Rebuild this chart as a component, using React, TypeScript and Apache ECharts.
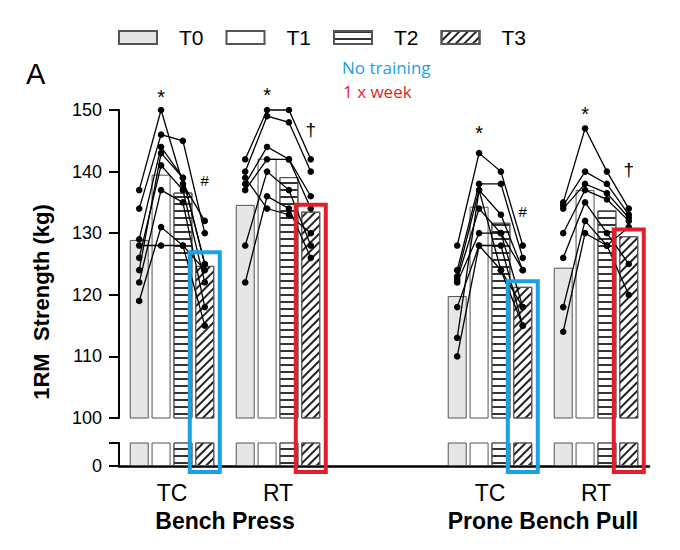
import { useEffect, useRef } from 'react';
import * as echarts from 'echarts';

const categories = ['TC', 'RT', '', 'TC', 'RT'];
const timepoints = ['T0', 'T1', 'T2', 'T3'];
const exercises = ['Bench Press', 'Prone Bench Pull'];

// group means (kg); the middle category is only a spacer
const meanT0 = [128.9, 134.6, '-', 119.8, 124.4];
const meanT1 = [139.5, 142.1, '-', 134.3, 137.0];
const meanT2 = [136.6, 139.1, '-', 131.7, 133.7];
const meanT3 = [124.7, 133.5, '-', 121.3, 129.5];

// individual subjects, values at T0, T1, T2, T3
const tcBench = [
  [137, 150, 138, 132],
  [134, 146, 145, 130],
  [129, 144, 139, 125],
  [126, 141, 137, 122],
  [122, 137, 135, 118],
  [119, 131, 128, 115],
  [128, 128, 128, 124],
  [124, 143, 139, 125],
];
const rtBench = [
  [142, 150, 150, 142],
  [140, 149, 148, 140],
  [138, 144, 142, 136],
  [137, 142, 142, 134],
  [128, 140, 137, 128],
  [122, 136, 134, 126],
  [139, 134, 133, 130],
];
const tcPull = [
  [128, 143, 140, 128],
  [124, 138, 138, 126],
  [123, 137, 133, 124],
  [122.5, 134, 130, 118],
  [122, 130, 130, 124],
  [118, 128, 128, 115],
  [113, 137, 124, 118],
  [110, 128, 124, 115],
];
const rtPull = [
  [135, 147, 140, 134],
  [134.5, 140, 138, 133],
  [134, 138, 136.5, 132.5],
  [130, 137, 135.5, 132],
  [126, 135, 130, 125],
  [118, 132, 128, 120],
  [114, 130, 128, 131],
];

// significance marks: category, timepoint, height (kg), symbol
const markCats = [0, 1, 3, 4, 0, 3, 1, 4];
const markTimes = [1, 1, 1, 1, 3, 3, 3, 3];
const markValues = [152.1, 152.4, 146.2, 149.4, 138.5, 133.5, 146.8, 140.3];
const markTexts = ['*', '*', '*', '*', '#', '#', '†', '†'];

// highlighted T3 bars
const boxCats = [0, 1, 3, 4];
const boxTops = [126.9, 134.6, 122.2, 130.6];
const boxColors = ['#1ba1e2', '#e11f2b', '#1ba1e2', '#e11f2b'];

const FONT = '"Liberation Sans", Arial, sans-serif';
const BAR_WIDTH = 19;
const BAR_GAP = 0.15;
const barOffset = (j: number) => (j - 1.5) * BAR_WIDTH * (1 + BAR_GAP);

const hLines = {
  symbol: 'rect',
  symbolSize: 1,
  color: '#333',
  dashArrayX: [1, 0],
  dashArrayY: [1.3, 4.7],
  rotation: 0,
};
const hatch = {
  symbol: 'rect',
  symbolSize: 1,
  color: '#222',
  dashArrayX: [1, 0],
  dashArrayY: [1.3, 3.4],
  rotation: -Math.PI / 4,
};

const barStyles: any[] = [
  { color: '#e6e6e6' },
  { color: '#ffffff' },
  { color: '#ffffff', decal: hLines },
  { color: '#ffffff', decal: hatch },
];
const means = [meanT0, meanT1, meanT2, meanT3];

export default function App() {
  const chartRef = useRef<HTMLDivElement>(null);

  useEffect(() => {
    document.body.style.margin = '0';
    if (!chartRef.current) return;
    const chart = echarts.init(chartRef.current, null, { renderer: 'svg' });

    const subjectRows: number[][] = [];
    [tcBench, rtBench, null, tcPull, rtPull].forEach((subs, cat) => {
      if (subs) subs.forEach((s) => subjectRows.push([cat, ...s]));
    });

    const barSeries: any[] = [];
    [0, 1].forEach((g) => {
      timepoints.forEach((t, j) => {
        barSeries.push({
          type: 'bar',
          name: t,
          xAxisIndex: g,
          yAxisIndex: g,
          data: means[j],
          barWidth: BAR_WIDTH,
          barGap: BAR_GAP * 100 + '%',
          clip: true,
          silent: true,
          itemStyle: { ...barStyles[j], borderColor: '#555', borderWidth: 1 },
        });
      });
    });

    const option = {
      animation: false,
      textStyle: { fontFamily: FONT },
      legend: {
        data: timepoints,
        left: 113,
        top: 22,
        icon: 'rect',
        itemWidth: 38,
        itemHeight: 13,
        itemGap: 22,
        selectedMode: false,
        textStyle: { fontSize: 21, color: '#000', fontFamily: FONT, padding: [0, 0, 0, 17] },
      },
      grid: [
        { left: 119, top: 110, width: 530, height: 308 },
        { left: 119, top: 443, width: 530, height: 23 },
      ],
      xAxis: [
        { gridIndex: 0, type: 'category', data: categories, show: false },
        {
          gridIndex: 1,
          type: 'category',
          data: categories,
          axisLine: { lineStyle: { color: '#000', width: 2.5 } },
          axisTick: { show: false },
          axisLabel: { fontSize: 23, color: '#000', margin: 15, fontFamily: FONT },
        },
      ],
      yAxis: [
        {
          gridIndex: 0,
          type: 'value',
          min: 100,
          max: 150,
          interval: 10,
          axisLine: { show: true, lineStyle: { color: '#000', width: 2 } },
          axisTick: { show: true, length: 10, lineStyle: { color: '#000', width: 2 } },
          axisLabel: { fontSize: 18, color: '#000', margin: 17, fontFamily: FONT },
          splitLine: { show: false },
        },
        {
          gridIndex: 1,
          type: 'value',
          min: 0,
          max: 10,
          interval: 10,
          axisLine: { show: true, lineStyle: { color: '#000', width: 2 } },
          axisTick: { show: true, length: 10, lineStyle: { color: '#000', width: 2 } },
          axisLabel: {
            fontSize: 18,
            color: '#000',
            margin: 17,
            fontFamily: FONT,
            formatter: (v: number) => (v === 0 ? '0' : ''),
          },
          splitLine: { show: false },
        },
      ],
      graphic: [
        {
          type: 'text',
          x: 26,
          y: 74,
          style: { text: 'A', font: `29px ${FONT}`, fill: '#000', textVerticalAlign: 'middle' },
        },
        {
          type: 'text',
          x: 342,
          y: 67,
          style: { text: 'No training', font: '17px "Open Sans", sans-serif', fill: '#1ba1e2', textVerticalAlign: 'middle' },
        },
        {
          type: 'text',
          x: 343,
          y: 91,
          style: { text: '1 x week', font: '17px "Open Sans", sans-serif', fill: '#e11f2b', textVerticalAlign: 'middle' },
        },
        {
          type: 'text',
          x: 41,
          y: 302,
          rotation: Math.PI / 2,
          style: {
            text: '1RM  Strength (kg)',
            font: `bold 22px ${FONT}`,
            fill: '#000',
            textAlign: 'center',
            textVerticalAlign: 'middle',
          },
        },
        {
          type: 'text',
          x: 225,
          y: 521,
          style: { text: exercises[0], font: `bold 23px ${FONT}`, fill: '#000', textAlign: 'center', textVerticalAlign: 'middle' },
        },
        {
          type: 'text',
          x: 543,
          y: 521,
          style: { text: exercises[1], font: `bold 23px ${FONT}`, fill: '#000', textAlign: 'center', textVerticalAlign: 'middle' },
        },
      ],
      series: [
        ...barSeries,
        {
          type: 'custom',
          xAxisIndex: 0,
          yAxisIndex: 0,
          z: 5,
          silent: true,
          encode: { x: 0, y: [1, 2, 3, 4] },
          data: subjectRows,
          renderItem: (params: any, api: any) => {
            const cat = api.value(0);
            const pts = [0, 1, 2, 3].map((j) => {
              const p = api.coord([cat, api.value(j + 1)]);
              return [p[0] + barOffset(j), p[1]];
            });
            return {
              type: 'group',
              children: [
                { type: 'polyline', shape: { points: pts }, style: { stroke: '#000', lineWidth: 1.3, fill: 'none' } },
                ...pts.map((p) => ({ type: 'circle', shape: { cx: p[0], cy: p[1], r: 3.3 }, style: { fill: '#000' } })),
              ],
            };
          },
        },
        {
          type: 'custom',
          xAxisIndex: 0,
          yAxisIndex: 0,
          z: 6,
          silent: true,
          encode: { x: 0, y: 1 },
          data: boxCats.map((c, i) => [c, boxTops[i]]),
          renderItem: (params: any, api: any) => {
            const top = api.coord([api.value(0), api.value(1)]);
            const base = api.coord([api.value(0), 100]);
            const cx = top[0] + barOffset(3);
            return {
              type: 'rect',
              shape: { x: cx - 15, y: top[1], width: 30, height: base[1] + 54 - top[1] },
              style: { stroke: boxColors[params.dataIndex], lineWidth: 4, fill: 'none' },
            };
          },
        },
        {
          type: 'custom',
          xAxisIndex: 0,
          yAxisIndex: 0,
          z: 6,
          silent: true,
          encode: { x: 0, y: 2 },
          data: markCats.map((c, i) => [c, markTimes[i], markValues[i]]),
          renderItem: (params: any, api: any) => {
            const p = api.coord([api.value(0), api.value(2)]);
            const txt = markTexts[params.dataIndex];
            const size = txt === '*' ? 20 : txt === '#' ? 15 : 19;
            return {
              type: 'text',
              x: p[0] + barOffset(api.value(1)),
              y: p[1],
              style: {
                text: txt,
                font: `${size}px ${FONT}`,
                fill: '#000',
                textAlign: 'center',
                textVerticalAlign: 'middle',
              },
            };
          },
        },
      ],
    };

    chart.setOption(option as any);
    return () => chart.dispose();
  }, []);

  return <div ref={chartRef} style={{ width: 680, height: 550 }} />;
}
